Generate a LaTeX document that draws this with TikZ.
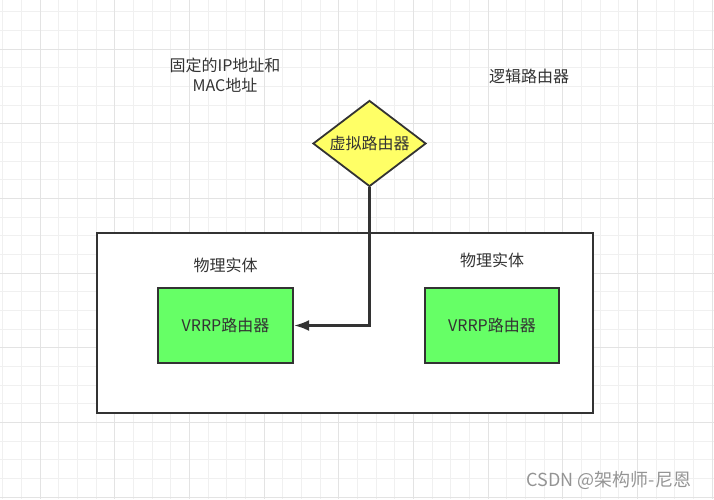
\documentclass[tikz,border=0pt]{standalone}
\usepackage{fontspec}
\setmainfont{Noto Sans CJK SC}
\usetikzlibrary{shapes.geometric,arrows.meta}
\definecolor{inkgray}{HTML}{333333}
\definecolor{vyellow}{HTML}{FFFF66}
\definecolor{vgreen}{HTML}{66FF66}
\tikzset{
  gridminor/.style={color=black!6,line width=0.8pt},
  gridmajor/.style={color=black!11,line width=0.9pt},
  txtlabel/.style={text=inkgray,font=\fontsize{16}{20}\selectfont,align=center,inner sep=0pt},
  physframe/.style={draw=inkgray,fill=white,line width=2.2pt,minimum width=496pt,minimum height=180pt},
  vrrpbox/.style={draw=inkgray,fill=vgreen,line width=2.2pt,minimum height=75pt,
    text=inkgray,font=\fontsize{16}{20}\selectfont},
  vdiamond/.style={diamond,draw=inkgray,fill=vyellow,line width=1.8pt,inner sep=0pt,
    aspect=1.33,minimum width=113pt,minimum height=86pt,text=inkgray,font=\fontsize{16}{20}\selectfont},
  link/.style={draw=inkgray,line width=2.2pt,-{Latex[length=15pt,width=11pt]}},
  wmtext/.style={text=black!42,font=\fontsize{18}{22}\selectfont,inner sep=0pt}
}
\begin{document}
\begin{tikzpicture}[x=1pt,y=-1pt]
\useasboundingbox (0,0) rectangle (714,499);
% grid
\foreach \k in {0,...,38}
\draw[gridminor] ({2.67+18.667*\k},0) -- ({2.67+18.667*\k},499);
\foreach \k in {0,...,26}
\draw[gridminor] (0,{11.67+18.667*\k}) -- (714,{11.67+18.667*\k});
\foreach \k in {0,...,9}
\draw[gridmajor] ({40+74.667*\k},0) -- ({40+74.667*\k},499);
\foreach \k in {0,...,6}
\draw[gridmajor] (0,{49+74.667*\k}) -- (714,{49+74.667*\k});
% labels on top
\node[txtlabel] (fixedaddr) at (225,75) {固定的IP地址和\\MAC地址};
\node[txtlabel] (logical) at (529,76) {逻辑路由器};
% physical frame
\node[physframe] (physbox) at (345,323) {};
\node[txtlabel] (entityA) at (225.5,265) {物理实体};
\node[txtlabel] (entityB) at (492,260) {物理实体};
\node[vrrpbox,minimum width=135pt] (vrrpA) at (225.5,325.5) {VRRP路由器};
\node[vrrpbox,minimum width=134pt] (vrrpB) at (492,325.5) {VRRP路由器};
% virtual router
\node[vdiamond] (vrouter) at (369.5,143.5) {虚拟路由器};
\draw[link] (vrouter.south) |- (vrrpA.east);
\node[wmtext] (csdn) at (609,480) {CSDN @架构师-尼恩};
\end{tikzpicture}
\end{document}
